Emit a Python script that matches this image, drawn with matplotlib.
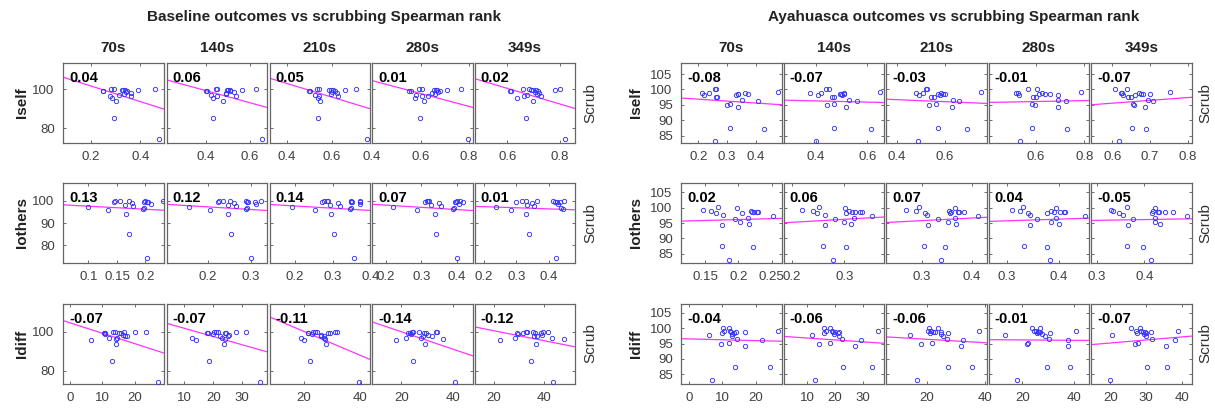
import numpy as np
import matplotlib
matplotlib.use("Agg")
from matplotlib import pyplot as plt

plt.rcParams['font.family'] = ['Liberation Sans', 'DejaVu Sans']

times = ['70s', '140s', '210s', '280s', '349s']
rows = ['Iself', 'Iothers', 'Idiff']

# scrub % per subject (same subjects in every subplot of a panel)
base_scrub = [100.1, 100.1, 100.0, 99.8, 99.7, 99.5, 99.5, 99.4, 99.3, 99.0,
              98.5, 98.1, 97.8, 97.0, 96.7, 96.4, 95.8, 93.9, 85.1, 74.3]
aya_scrub = [100.2, 100.0, 99.2, 99.0, 98.9, 98.7, 98.6, 98.6, 98.5, 98.3,
             98.2, 97.7, 97.4, 96.6, 96.3, 95.2, 94.8, 94.3, 87.5, 87.3, 83.1]

# outcome values, one list per time window
base_iself = [
    [0.457, 0.292, 0.281, 0.388, 0.337, 0.324, 0.331, 0.249, 0.249, 0.345, 0.34, 0.363, 0.334, 0.313, 0.36, 0.276, 0.286, 0.299, 0.294, 0.475],
    [0.63, 0.45, 0.445, 0.566, 0.509, 0.498, 0.503, 0.404, 0.398, 0.512, 0.53, 0.49, 0.494, 0.422, 0.539, 0.452, 0.431, 0.478, 0.434, 0.655],
    [0.707, 0.541, 0.533, 0.655, 0.602, 0.585, 0.594, 0.498, 0.501, 0.611, 0.6, 0.62, 0.594, 0.524, 0.628, 0.541, 0.536, 0.547, 0.536, 0.752],
    [0.766, 0.604, 0.594, 0.709, 0.669, 0.656, 0.664, 0.551, 0.559, 0.68, 0.67, 0.648, 0.659, 0.583, 0.632, 0.604, 0.578, 0.615, 0.599, 0.795],
    [0.802, 0.684, 0.658, 0.783, 0.709, 0.69, 0.699, 0.611, 0.614, 0.717, 0.705, 0.72, 0.714, 0.675, 0.728, 0.665, 0.636, 0.699, 0.672, 0.822]]
base_iothers = [
    [0.23, 0.155, 0.2, 0.171, 0.146, 0.198, 0.202, 0.145, 0.204, 0.176, 0.209, 0.164, 0.178, 0.099, 0.198, 0.195, 0.134, 0.166, 0.171, 0.203],
    [0.325, 0.236, 0.29, 0.252, 0.227, 0.291, 0.294, 0.224, 0.31, 0.262, 0.313, 0.248, 0.265, 0.156, 0.291, 0.29, 0.206, 0.246, 0.254, 0.302],
    [0.374, 0.287, 0.35, 0.284, 0.276, 0.35, 0.352, 0.273, 0.372, 0.315, 0.374, 0.294, 0.319, 0.191, 0.35, 0.347, 0.252, 0.297, 0.303, 0.358],
    [0.41, 0.32, 0.401, 0.322, 0.315, 0.395, 0.399, 0.311, 0.418, 0.35, 0.406, 0.328, 0.356, 0.219, 0.392, 0.39, 0.289, 0.339, 0.343, 0.4],
    [0.413, 0.317, 0.447, 0.363, 0.329, 0.419, 0.435, 0.299, 0.425, 0.347, 0.43, 0.332, 0.353, 0.236, 0.437, 0.443, 0.284, 0.329, 0.339, 0.423]]
base_idiff = [
    [23.6, 14.0, 13.4, 20.2, 16.7, 15.2, 15.8, 10.6, 10.9, 10.7, 16.5, 17.5, 17.1, 14.6, 12.2, 14.3, 6.4, 14.3, 13.0, 27.3],
    [31.2, 20.8, 20.4, 27.8, 21.8, 24.5, 24.0, 17.8, 18.2, 19.8, 25.5, 22.5, 25.2, 12.8, 23.1, 24.1, 14.0, 23.8, 18.4, 36.0],
    [31.7, 24.2, 23.4, 31.1, 24.8, 28.6, 29.2, 21.4, 21.7, 22.9, 26.3, 26.1, 27.1, 19.2, 27.3, 27.6, 20.1, 28.0, 22.4, 39.7],
    [33.8, 26.9, 24.3, 33.4, 24.0, 28.8, 29.5, 22.7, 23.2, 23.7, 30.1, 28.2, 31.9, 21.7, 27.5, 36.0, 17.8, 29.3, 24.5, 40.6],
    [41.8, 35.7, 32.7, 39.5, 33.4, 36.5, 38.8, 29.2, 31.6, 29.6, 39.2, 36.2, 37.3, 28.6, 43.4, 47.9, 22.5, 36.8, 35.0, 43.8]]

aya_iself = [
    [0.258, 0.262, 0.477, 0.214, 0.239, 0.361, 0.337, 0.339, 0.373, 0.22, 0.33, 0.265, 0.262, 0.351, 0.409, 0.312, 0.3, 0.337, 0.31, 0.43, 0.258],
    [0.439, 0.45, 0.649, 0.376, 0.421, 0.507, 0.492, 0.499, 0.51, 0.409, 0.5, 0.462, 0.469, 0.529, 0.559, 0.469, 0.442, 0.517, 0.472, 0.612, 0.399],
    [0.521, 0.527, 0.751, 0.48, 0.508, 0.585, 0.572, 0.591, 0.6, 0.492, 0.578, 0.543, 0.556, 0.633, 0.66, 0.564, 0.532, 0.628, 0.572, 0.69, 0.489],
    [0.569, 0.606, 0.785, 0.52, 0.53, 0.627, 0.614, 0.638, 0.661, 0.534, 0.69, 0.59, 0.6, 0.69, 0.725, 0.585, 0.598, 0.69, 0.585, 0.73, 0.535],
    [0.607, 0.638, 0.752, 0.624, 0.627, 0.67, 0.677, 0.681, 0.699, 0.628, 0.66, 0.643, 0.65, 0.694, 0.709, 0.656, 0.658, 0.687, 0.653, 0.69, 0.617]]
aya_iothers = [
    [0.17, 0.198, 0.147, 0.159, 0.219, 0.221, 0.223, 0.228, 0.23, 0.206, 0.166, 0.177, 0.252, 0.215, 0.195, 0.202, 0.216, 0.175, 0.176, 0.222, 0.186],
    [0.252, 0.302, 0.22, 0.241, 0.309, 0.314, 0.321, 0.329, 0.334, 0.304, 0.248, 0.263, 0.353, 0.318, 0.283, 0.3, 0.312, 0.264, 0.259, 0.303, 0.278],
    [0.295, 0.367, 0.268, 0.289, 0.355, 0.358, 0.372, 0.375, 0.384, 0.357, 0.307, 0.311, 0.412, 0.366, 0.332, 0.352, 0.368, 0.313, 0.304, 0.346, 0.338],
    [0.331, 0.395, 0.31, 0.325, 0.384, 0.391, 0.402, 0.41, 0.412, 0.376, 0.341, 0.343, 0.449, 0.395, 0.358, 0.385, 0.399, 0.343, 0.332, 0.376, 0.382],
    [0.364, 0.422, 0.33, 0.334, 0.419, 0.429, 0.431, 0.443, 0.46, 0.417, 0.346, 0.356, 0.49, 0.422, 0.376, 0.422, 0.433, 0.366, 0.364, 0.398, 0.415]]
aya_idiff = [
    [10.1, 12.1, 26.7, 10.6, 12.4, 16.8, 14.1, 12.7, 13.6, 9.8, 13.0, 6.1, 12.9, 14.4, 22.0, 11.9, 9.5, 16.8, 13.9, 24.3, 7.0],
    [16.2, 18.3, 35.5, 16.9, 18.9, 21.3, 19.3, 20.0, 21.0, 16.2, 19.5, 11.7, 21.6, 22.4, 29.3, 18.3, 14.2, 27.1, 22.7, 33.1, 12.7],
    [23.7, 20.8, 37.9, 20.4, 21.4, 22.0, 22.8, 24.8, 27.3, 21.0, 25.0, 14.4, 25.7, 27.0, 32.6, 21.7, 18.0, 31.7, 27.3, 35.7, 16.6],
    [23.7, 27.0, 40.8, 24.4, 25.2, 25.9, 26.4, 26.7, 30.8, 25.5, 27.5, 13.3, 28.9, 30.4, 37.8, 22.2, 21.9, 37.5, 29.4, 38.3, 17.8],
    [28.4, 25.8, 38.9, 27.1, 28.7, 29.8, 31.4, 29.2, 27.6, 30.0, 29.5, 20.6, 30.1, 31.6, 38.0, 27.9, 26.9, 35.7, 30.3, 36.0, 20.0]]

# spearman rho printed in each box
base_rho = [[0.04, 0.06, 0.05, 0.01, 0.02],
            [0.13, 0.12, 0.14, 0.07, 0.01],
            [-0.07, -0.07, -0.11, -0.14, -0.12]]
aya_rho = [[-0.08, -0.07, -0.03, -0.01, -0.07],
           [0.02, 0.06, 0.07, 0.04, -0.05],
           [-0.04, -0.06, -0.06, -0.01, -0.07]]

# axis limits / ticks as shown
base_xlim = [[(0.086, 0.494), (0.219, 0.681), (0.324, 0.768), (0.4, 0.815), (0.474, 0.86)],
             [(0.0553, 0.232), (0.103, 0.339), (0.132, 0.4), (0.16, 0.446), (0.171, 0.482)],
             [(-2.2, 29), (3.9, 38.6), (7.9, 43.6), (8.6, 47.6), (12.4, 52.5)]]
aya_xlim = [[(0.14, 0.49), (0.274, 0.665), (0.356, 0.773), (0.407, 0.82), (0.544, 0.81)],
            [(0.114, 0.265), (0.184, 0.376), (0.229, 0.43), (0.264, 0.458), (0.2875, 0.50)],
            [(-2.4, 27.8), (1.6, 37.6), (6, 40.6), (7, 45.8), (14.6, 42.8)]]
base_xticks = [[[0.2, 0.4], [0.4, 0.6], [0.4, 0.6], [0.4, 0.6, 0.8], [0.6, 0.8]],
               [[0.1, 0.15, 0.2], [0.2, 0.3], [0.2, 0.3, 0.4], [0.2, 0.3, 0.4], [0.2, 0.3, 0.4]],
               [[0, 10, 20], [10, 20, 30], [20, 40], [20, 40], [20, 40]]]
aya_xticks = [[[0.2, 0.3, 0.4], [0.4, 0.6], [0.4, 0.6], [0.6, 0.8], [0.6, 0.7, 0.8]],
              [[0.15, 0.2, 0.25], [0.2, 0.3], [0.3, 0.4], [0.3, 0.4], [0.3, 0.4]],
              [[0, 10, 20], [10, 20, 30], [20, 40], [20, 40], [20, 30, 40]]]
base_ylim = [(72.5, 113.5), (72, 108), (73.4, 114.6)]
aya_ylim = [(82.6, 108.6), (82, 108), (82, 108)]
base_yticks = [[80, 100], [80, 90, 100], [80, 100]]
aya_yticks = [[85, 90, 95, 100, 105]] * 3

W, H = 1215, 408
fig = plt.figure(figsize=(W / 100, H / 100), dpi=100)

def fmt(v):
    return '%g' % v

def panel(lefts, scrub, data, rho, xlims, xticks, ylims, yticks, title, title_x, lab_x, scrub_x):
    w, h = 100.7, 80
    tops = [63, 183, 303.5]
    for r in range(3):
        for c in range(5):
            ax = fig.add_axes([lefts[c] / W, 1 - (tops[r] + h) / H, w / W, h / H])
            x = np.array(data[r][c])
            y = np.array(scrub)
            ax.plot(x, y, 'o', ms=3.1, mfc='none', mec='#3333ff', mew=0.65, zorder=3)
            # least squares line across the axes
            p = np.polyfit(x, y, 1)
            xs = np.array(xlims[r][c])
            ax.plot(xs, np.polyval(p, xs), color='#ff33ff', lw=0.9, zorder=2)
            ax.set_xlim(xlims[r][c])
            ax.set_ylim(ylims[r])
            ax.set_xticks(xticks[r][c])
            ax.set_xticklabels([fmt(t) for t in xticks[r][c]])
            ax.set_yticks(yticks[r])
            if c == 0:
                ax.set_yticklabels([fmt(t) for t in yticks[r]])
            else:
                ax.set_yticklabels([])
            ax.tick_params(direction='in', length=2.5, width=0.6, top=True, right=True,
                           labelsize=9.5, labelcolor='#404040', color='#555555', pad=6)
            for s in ax.spines.values():
                s.set_color('#666666')
                s.set_linewidth(0.9)
            ax.text(0.06, 0.81, '%.2f' % rho[r][c], transform=ax.transAxes,
                    fontsize=10.5, fontweight='bold', va='center', ha='left')
            if r == 0:
                fig.text((lefts[c] + w / 2) / W, 1 - 48 / H, times[c], fontsize=11,
                         fontweight='bold', ha='center', va='center', color='#222222')
        yc = tops[r] + h / 2
        fig.text(lab_x / W, 1 - yc / H, rows[r], rotation=90, fontsize=11,
                 fontweight='bold', ha='center', va='center', color='#222222')
        fig.text(scrub_x / W, 1 - yc / H, 'Scrub', rotation=90, fontsize=11,
                 ha='center', va='center', color='#333333')
    fig.text(title_x / W, 1 - 17 / H, title, fontsize=11, fontweight='bold',
             ha='center', va='center', color='#222222')

panel([63, 166.5, 269.5, 372, 474.6], base_scrub,
      [base_iself, base_iothers, base_idiff], base_rho, base_xlim, base_xticks,
      base_ylim, base_yticks, 'Baseline outcomes vs scrubbing Spearman rank', 324, 22, 590)
panel([681, 783.5, 886, 988.5, 1091], aya_scrub,
      [aya_iself, aya_iothers, aya_idiff], aya_rho, aya_xlim, aya_xticks,
      aya_ylim, aya_yticks, 'Ayahuasca outcomes vs scrubbing Spearman rank', 954, 636, 1205)

fig.savefig('out.png', dpi=100)
plt.close(fig)
